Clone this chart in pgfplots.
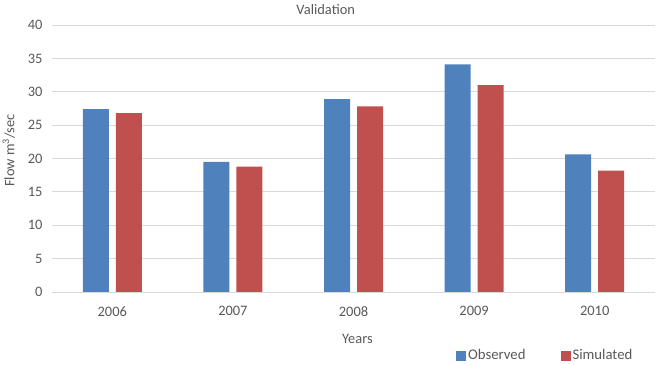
\documentclass[border=0pt]{standalone}
\usepackage{fontspec}
\setmainfont{Carlito}
\usepackage{pgfplots}
\pgfplotsset{compat=1.18}
\definecolor{obs}{HTML}{4F81BD}
\definecolor{sim}{HTML}{C0504D}
\definecolor{txt}{HTML}{595959}
\definecolor{grd}{HTML}{D9D9D9}
\begin{document}
\begin{tikzpicture}
\useasboundingbox (0,0) rectangle (661bp,365bp);
\begin{axis}[
  at={(52bp,73bp)}, anchor=south west,
  scale only axis, width=603bp, height=267bp,
  ybar=7bp, bar width=26bp,
  xmin=-0.5, xmax=4.5, ymin=0, ymax=40,
  ytick={0,5,...,40},
  xtick=data, xticklabels={2006,2007,2008,2009,2010},
  ymajorgrids, grid style={grd, line width=0.8pt},
  axis x line*=bottom, axis y line*=left,
  x axis line style={grd, line width=0.8pt, -},
  y axis line style={draw=none},
  major tick length=0pt,
  ticklabel style={font=\fontsize{14.5}{16}\selectfont, text=txt},
  /pgf/number format/assume math mode=true,
  yticklabel style={xshift=-6bp},
  xticklabel style={yshift=-11bp},
  title={Validation},
  title style={font=\fontsize{14.5}{16}\selectfont, text=txt, at={(0.454,1)}, yshift=1bp},
  xlabel={Years},
  xlabel style={font=\fontsize{14.5}{16}\selectfont, text=txt, yshift=-11bp, xshift=4bp},
  ylabel={Flow m\textsuperscript{3}/sec},
  ylabel style={font=\fontsize{14.5}{16}\selectfont, text=txt, yshift=6bp, xshift=8bp},
  legend columns=2,
  legend style={draw=none, fill=none, font=\fontsize{14.8}{16}\selectfont, text=txt,
    at={(0.818,-0.238)}, anchor=center, inner sep=0pt,
    /tikz/every even column/.append style={column sep=33bp}},
  legend image code/.code={\fill[#1] (0bp,-5bp) rectangle (10bp,5bp);},
  enlarge x limits=false,
]
\addplot[fill=obs, draw=none] coordinates {(0,27.4) (1,19.5) (2,28.9) (3,34.1) (4,20.6)};
\addplot[fill=sim, draw=none] coordinates {(0,26.8) (1,18.8) (2,27.8) (3,31.0) (4,18.2)};
\legend{Observed, Simulated}
\end{axis}
\end{tikzpicture}
\end{document}
